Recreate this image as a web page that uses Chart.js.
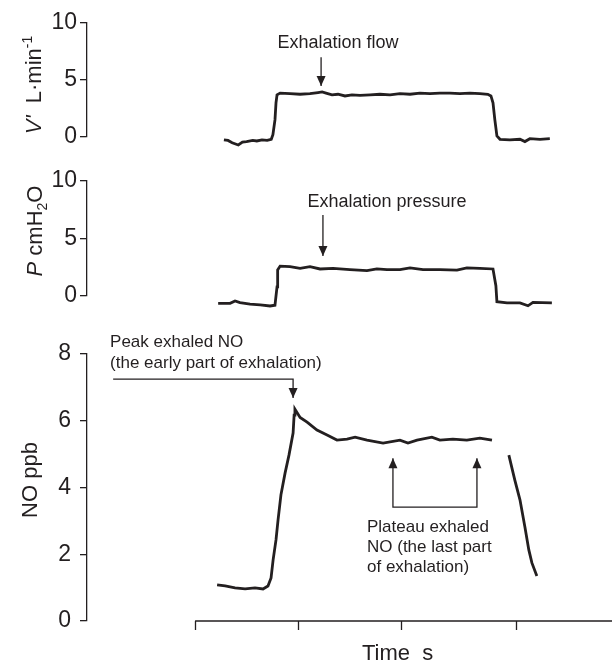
<!DOCTYPE html>
<html>
<head>
<meta charset="utf-8">
<script src="https://cdn.jsdelivr.net/npm/chart.js@4.4.0/dist/chart.umd.min.js"></script>
<style>
  body { margin: 0; background: #fff; }
  #wrap { position: relative; width: 612px; height: 669px; font-family: 'Liberation Sans', Arial, sans-serif; color: #231f20; }
  canvas { position: absolute; left: 0; }
  .ytitle { position: absolute; font-size: 22px; white-space: nowrap; line-height: 1; transform: translate(-50%, -50%) rotate(-90deg); }
  .ytitle sup { font-size: 14px; vertical-align: 9px; line-height: 0; }
  .ytitle sub { font-size: 14px; vertical-align: -5px; line-height: 0; }
</style>
</head>
<body>
<div id="wrap">
  <canvas id="flowChart" width="612" height="160" style="top:0"></canvas>
  <canvas id="pressureChart" width="612" height="160" style="top:160px"></canvas>
  <canvas id="noChart" width="612" height="349" style="top:320px"></canvas>
  <div class="ytitle" style="left:34px;top:85px"><i>V'</i>&nbsp;&nbsp;L·min<sup>-1</sup></div>
  <div class="ytitle" style="left:35px;top:231px"><i>P</i> cmH<sub>2</sub>O</div>
  <div class="ytitle" style="left:30px;top:480px">NO ppb</div>
</div>
<script>
const ink = '#231f20';
const family = "'Liberation Sans', Arial, sans-serif";

// Temps (s) et valeurs
const flowTime = [1.4, 1.6, 1.8, 2.1, 2.3, 2.5, 2.8, 3.0, 3.25, 3.5, 3.7, 3.78, 3.88, 3.93, 3.98, 4.13, 4.61, 5.1, 5.58,
  5.97, 6.17, 6.36, 6.65, 6.94, 7.28, 7.62, 8.01, 8.5, 8.98, 9.47, 9.95, 10.44, 10.92, 11.41, 11.89, 12.38, 12.86,
  13.35, 13.83, 14.22, 14.37, 14.47, 14.56, 14.66, 14.81, 15.29, 15.78, 16.02, 16.26, 16.75, 17.23];
const flowValue = [-0.25, -0.3, -0.5, -0.7, -0.45, -0.4, -0.3, -0.35, -0.25, -0.3, -0.2, 0.2, 1.5, 3.0, 3.7, 3.85, 3.8, 3.75, 3.8,
  3.9, 3.95, 3.85, 3.7, 3.75, 3.6, 3.7, 3.65, 3.7, 3.75, 3.7, 3.8, 3.75, 3.85, 3.8, 3.85, 3.85, 3.8,
  3.85, 3.8, 3.75, 3.6, 3.0, 1.5, 0.1, -0.2, -0.25, -0.2, -0.4, -0.15, -0.2, -0.15];

const pressureTime = [1.12, 1.7, 1.94, 2.18, 2.67, 3.16, 3.64, 3.88, 3.98, 4.01, 4.13, 4.61, 5.1, 5.58, 6.07, 6.7, 7.52,
  8.35, 8.83, 9.32, 9.95, 10.44, 11.07, 11.89, 12.72, 13.2, 13.83, 14.47, 14.61, 14.66, 15.15, 15.78, 16.17, 16.41, 17.33];
const pressureValue = [-0.64, -0.64, -0.43, -0.58, -0.7, -0.78, -0.87, -0.8, 0.8, 2.26, 2.6, 2.55, 2.4, 2.55, 2.35, 2.4, 2.3,
  2.2, 2.35, 2.3, 2.3, 2.45, 2.3, 2.3, 2.25, 2.45, 2.4, 2.35, 0.9, -0.5, -0.6, -0.6, -0.85, -0.55, -0.6];

const noTime = [1.07, 1.46, 1.94, 2.43, 2.91, 3.3, 3.54, 3.69, 3.79, 3.93, 4.03, 4.17, 4.37, 4.56, 4.76, 4.81, 4.85,
  5.1, 5.44, 5.92, 6.41, 6.89, 7.38, 7.77, 8.35, 9.13, 9.95, 10.34, 10.78, 11.5, 11.89, 12.52, 13.2, 13.83, 14.42,
  14.9, 15.24, 15.53, 15.78, 16.02, 16.21, 16.36, 16.6];
const noValue = [1.08, 1.05, 0.99, 0.96, 0.99, 0.96, 1.05, 1.29, 1.83, 2.43, 3.03, 3.78, 4.43, 4.97, 5.63, 6.17, 6.35,
  6.1, 5.96, 5.72, 5.57, 5.42, 5.45, 5.51, 5.42, 5.33, 5.42, 5.33, 5.42, 5.51, 5.42, 5.45, 5.42, 5.48, 5.42,
  null, 4.97, 4.22, 3.63, 2.82, 2.13, 1.74, 1.35];

const flowTicks = [0, 5, 10];
const pressureTicks = [0, 5, 10];
const noTicks = [0, 2, 4, 6, 8];
const timeTicks = [0, 5, 10, 15.6];

function toPoints(times, values) {
  return times.map((t, i) => ({ x: t, y: values[i] }));
}

function drawHead(ctx, x, y, angle) {
  ctx.save();
  ctx.translate(x, y);
  ctx.rotate(angle);
  ctx.beginPath();
  ctx.moveTo(0, 0);
  ctx.lineTo(-10, -4.5);
  ctx.lineTo(-10, 4.5);
  ctx.closePath();
  ctx.fill();
  ctx.restore();
}

// Flèches et textes d'annotation, en unités des axes
const notesPlugin = {
  id: 'notes',
  afterDatasetsDraw(chart, args, opts) {
    const { ctx, scales: { x, y } } = chart;
    ctx.save();
    ctx.strokeStyle = ink;
    ctx.fillStyle = ink;
    ctx.lineWidth = 1.3;
    (opts.paths || []).forEach(p => {
      const pts = p.points.map(([t, v]) => [x.getPixelForValue(t), y.getPixelForValue(v)]);
      ctx.beginPath();
      pts.forEach(([px, py], i) => i ? ctx.lineTo(px, py) : ctx.moveTo(px, py));
      ctx.stroke();
      const n = pts.length;
      drawHead(ctx, pts[n - 1][0], pts[n - 1][1], Math.atan2(pts[n - 1][1] - pts[n - 2][1], pts[n - 1][0] - pts[n - 2][0]));
      if (p.both) {
        drawHead(ctx, pts[0][0], pts[0][1], Math.atan2(pts[0][1] - pts[1][1], pts[0][0] - pts[1][0]));
      }
    });
    (opts.texts || []).forEach(tx => {
      ctx.font = tx.size + 'px ' + family;
      ctx.textAlign = tx.align || 'left';
      ctx.textBaseline = 'alphabetic';
      const px = x.getPixelForValue(tx.t);
      const py = y.getPixelForValue(tx.v);
      tx.lines.forEach((line, i) => ctx.fillText(line, px, py + i * tx.lineHeight));
    });
    ctx.restore();
  }
};

// Axe du temps, décalé de l'axe vertical
const timeAxisPlugin = {
  id: 'timeAxis',
  afterDraw(chart, args, opts) {
    if (!opts.show) return;
    const { ctx, chartArea, scales: { x } } = chart;
    const y0 = chartArea.bottom;
    const xs = x.getPixelForValue(timeTicks[0]);
    ctx.save();
    ctx.strokeStyle = ink;
    ctx.lineWidth = 1.3;
    ctx.beginPath();
    ctx.moveTo(xs, y0);
    ctx.lineTo(chart.width, y0);
    timeTicks.forEach(t => {
      const px = Math.round(x.getPixelForValue(t)) + 0.5;
      ctx.moveTo(px, y0);
      ctx.lineTo(px, y0 + 9);
    });
    ctx.stroke();
    ctx.fillStyle = ink;
    ctx.font = '22px ' + family;
    ctx.textAlign = 'center';
    ctx.textBaseline = 'alphabetic';
    ctx.fillText('Time  s', (xs + chart.width) / 2 - 6, y0 + 39);
    ctx.restore();
  }
};

function makePanel(id, times, values, ticks, yMax, padTop, padBottom, labelPad, notes, showTime) {
  return new Chart(document.getElementById(id), {
    type: 'line',
    data: {
      datasets: [{
        data: toPoints(times, values),
        borderColor: ink,
        borderWidth: 2.8,
        pointRadius: 0,
        tension: 0,
        clip: false,
        spanGaps: false
      }]
    },
    options: {
      responsive: false,
      animation: false,
      events: [],
      layout: { padding: { top: padTop, bottom: padBottom, left: 0, right: 0 } },
      plugins: {
        legend: { display: false },
        tooltip: { enabled: false },
        notes: notes,
        timeAxis: { show: showTime }
      },
      scales: {
        x: { type: 'linear', display: false, min: -5.25, max: 20.25 },
        y: {
          min: 0,
          max: yMax,
          afterBuildTicks: s => { s.ticks = ticks.map(v => ({ value: v })); },
          afterFit: s => { s.width = 87; },
          ticks: { color: ink, padding: labelPad, font: { size: 23, family: family } },
          grid: { drawOnChartArea: false, tickLength: 7, color: ink, lineWidth: 1.3 },
          border: { color: ink, width: 1.3 }
        }
      }
    },
    plugins: [notesPlugin, timeAxisPlugin]
  });
}

makePanel('flowChart', flowTime, flowValue, flowTicks, 10, 23, 23, 3, {
  paths: [{ points: [[6.12, 7.0], [6.12, 4.47]] }],
  texts: [{ t: 6.94, v: 7.8, size: 18, align: 'center', lineHeight: 20, lines: ['Exhalation flow'] }]
}, false);

makePanel('pressureChart', pressureTime, pressureValue, pressureTicks, 10, 21, 24, 3, {
  paths: [{ points: [[6.21, 7.04], [6.21, 3.48]] }],
  texts: [{ t: 9.32, v: 7.74, size: 18, align: 'center', lineHeight: 20, lines: ['Exhalation pressure'] }]
}, false);

makePanel('noChart', noTime, noValue, noTicks, 8, 34, 48, 9, {
  paths: [
    { points: [[-3.98, 7.25], [4.76, 7.25], [4.76, 6.68]] },
    { points: [[9.61, 4.88], [9.61, 3.41], [13.69, 3.41], [13.69, 4.88]], both: true }
  ],
  texts: [
    { t: -4.13, v: 8.21, size: 17, lineHeight: 21, lines: ['Peak exhaled NO', '(the early part of exhalation)'] },
    { t: 8.35, v: 2.67, size: 17, lineHeight: 20, lines: ['Plateau exhaled', 'NO (the last part', 'of exhalation)'] }
  ]
}, true);
</script>
</body>
</html>
